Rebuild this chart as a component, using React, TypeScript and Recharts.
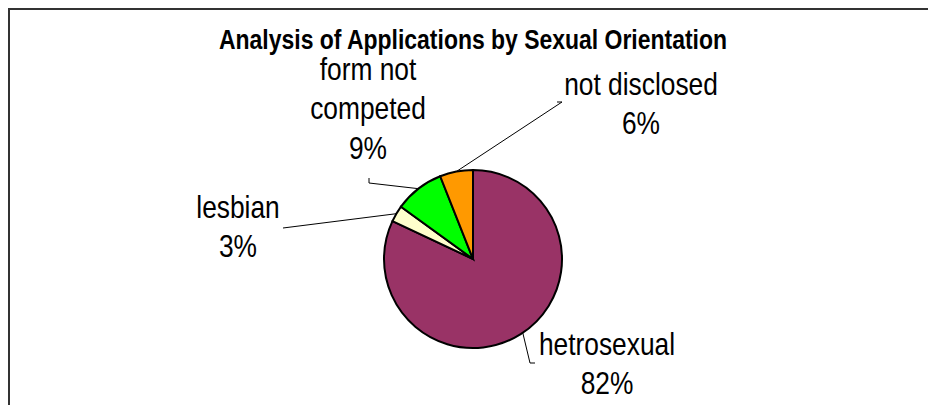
import { PieChart, Pie, Cell } from 'recharts';

// values (percent of applications)
const CATEGORIES = ['hetrosexual', 'lesbian', 'form not\ncompeted', 'not disclosed'];
const SHARES = [82, 3, 9, 6];
const COLORS = ['#993366', '#FFFFCC', '#00FF00', '#FF9900'];

const FONT = '"Liberation Sans", Arial, sans-serif';
// no narrow face installed, so squeeze Liberation Sans like Arial Narrow
const NARROW = 0.85;

// hand-placed labels like the Excel original: baseline offset from pie centre + leader line
const LABEL_LAYOUT = [
  { tx: 134, ty: 96, anchor: -56, line: [[57, 104], [62, 104]] },
  { tx: -235, ty: -41, anchor: null, line: [[-190, -31]] },
  { tx: -105, ty: -179, anchor: null, line: [[-104, -76], [-104, -81]] },
  { tx: 168, ty: -164, anchor: null, line: [[89, -157], [84, -157]] },
];

const RAD = Math.PI / 180;
const LINE_GAP = 39.5;
const W = 928;
const H = 405;
const CX = 473;
const CY = 259;

const data = CATEGORIES.map((name, i) => ({ name, value: SHARES[i] }));

function renderLabel(props: any) {
  const { cx, cy, midAngle, outerRadius, index, percent } = props;
  const layout = LABEL_LAYOUT[index];
  const ang = layout.anchor ?? midAngle;
  const sx = cx + outerRadius * Math.cos(-ang * RAD);
  const sy = cy + outerRadius * Math.sin(-ang * RAD);
  const pts = [[sx, sy], ...layout.line.map(([dx, dy]) => [cx + dx, cy + dy])];
  const d = pts.map((p, i) => `${i === 0 ? 'M' : 'L'}${p[0]},${p[1]}`).join(' ');
  const lines = [...CATEGORIES[index].split('\n'), `${Math.round(percent * 100)}%`];
  return (
    <g key={`lbl-${index}`}>
      <path d={d} stroke="#000" strokeWidth={1} fill="none" />
      <g transform={`translate(${cx + layout.tx},${cy + layout.ty}) scale(${NARROW},1)`}>
        <text textAnchor="middle" fontFamily={FONT} fontSize={31} fill="#000">
          {lines.map((t, i) => (
            <tspan key={i} x={0} y={i * LINE_GAP}>
              {t}
            </tspan>
          ))}
        </text>
      </g>
    </g>
  );
}

export default function App() {
  return (
    <div style={{ width: W, height: H, overflow: 'hidden', background: '#fff' }}>
      <style>{'html,body{margin:0;overflow:hidden}'}</style>
      <PieChart width={W} height={H} margin={{ top: 0, right: 0, bottom: 0, left: 0 }}>
        {/* chart-area frame, right and bottom edges fall outside the crop */}
        <path d={`M9,${H} L9,9 L${W},9`} stroke="#333" strokeWidth={2} fill="none" />
        <g transform={`translate(${CX},49) scale(0.82,1)`}>
          <text textAnchor="middle" fontFamily={FONT} fontWeight="bold" fontSize={28} fill="#000">
            Analysis of Applications by Sexual Orientation
          </text>
        </g>
        <Pie
          data={data}
          dataKey="value"
          nameKey="name"
          cx={CX}
          cy={CY}
          outerRadius={89}
          startAngle={90}
          endAngle={-270}
          stroke="#000"
          strokeWidth={2}
          label={renderLabel}
          labelLine={false}
          isAnimationActive={false}
        >
          {data.map((_, i) => (
            <Cell key={i} fill={COLORS[i]} />
          ))}
        </Pie>
      </PieChart>
    </div>
  );
}
